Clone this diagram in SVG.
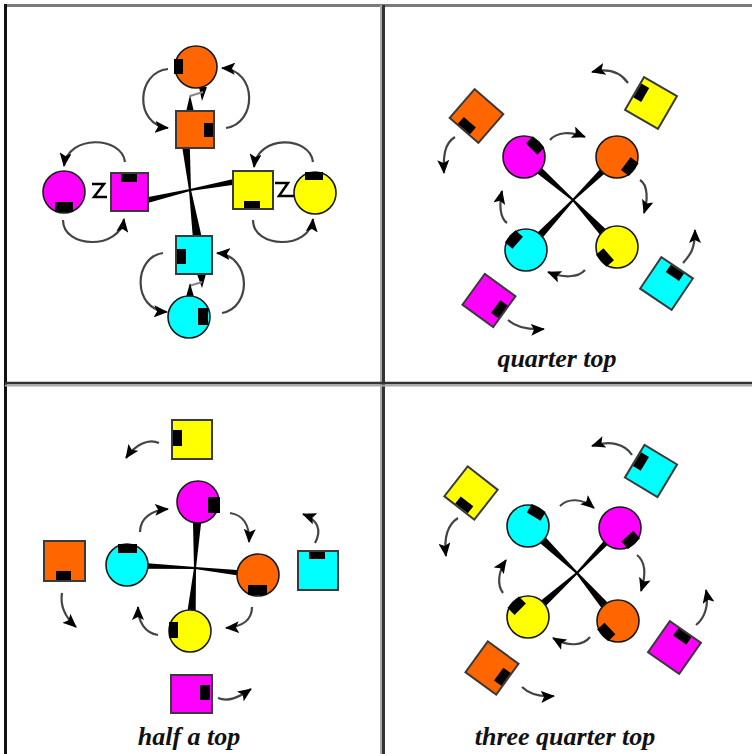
<svg xmlns="http://www.w3.org/2000/svg" width="752" height="754" viewBox="0 0 752 754">
<defs>
<marker id="ah" viewBox="0 0 14 12" refX="13" refY="6" markerWidth="14" markerHeight="12" markerUnits="userSpaceOnUse" orient="auto"><path d="M0,0 L14,6 L0,12 L3,6 z" fill="#000"/></marker>
<style>
.o{fill:#ff6600}.m{fill:#ff00ff}.y{fill:#ffff00}.c{fill:#00ffff}
circle{stroke:#1a1a1a;stroke-width:1.6}
.sq{stroke:#3a3a3a;stroke-width:2}
.k{fill:#000}
.arc{fill:none;stroke:#444;stroke-width:2.2;marker-end:url(#ah)}
.w{fill:#000}
.lbl{font-family:"Liberation Serif",serif;font-weight:bold;font-style:italic;font-size:26px;fill:#111;text-anchor:middle}
</style>
</defs>
<rect width="752" height="754" fill="#fff"/>
<g id="frame">
<line x1="4" y1="5.5" x2="752" y2="5.5" stroke="#7a7a7a" stroke-width="3"/>
<line x1="5.5" y1="4" x2="5.5" y2="754" stroke="#111" stroke-width="3"/>
<line x1="381" y1="5" x2="381" y2="754" stroke="#aaa" stroke-width="2"/>
<line x1="383.5" y1="5" x2="383.5" y2="754" stroke="#333" stroke-width="3"/>
<line x1="5" y1="385.5" x2="752" y2="385.5" stroke="#aaa" stroke-width="2"/>
<line x1="5" y1="383" x2="752" y2="383" stroke="#333" stroke-width="2.5"/>
</g>

<!-- Quadrant 1 -->
<g id="q1">
<g id="q1-connectors">
<polygon class="w" transform="translate(190,190) rotate(-95.3)" points="0,-1 46,-4 46,4 0,1"/>
<polygon class="w" transform="translate(190,190) rotate(81.3)" points="0,-1 49,-4.5 49,4.5 0,1"/>
<polygon class="w" transform="translate(190,190) rotate(166.6)" points="0,-1 46,-3 46,3 0,1"/>
<polygon class="w" transform="translate(190,190) rotate(-10.5)" points="0,-1 46,-3 46,3 0,1"/>
<polygon class="w" points="199,87 207,87 202,101"/>
<line x1="190" y1="96" x2="203" y2="92" stroke="#888" stroke-width="2"/>
<polygon class="w" points="190,95 186,112 194,112"/>
<polygon class="w" points="197,274 206,274 202,288"/>
<line x1="189" y1="286" x2="202" y2="282" stroke="#888" stroke-width="2"/>
<polygon class="w" points="190,283 186,297 194,297"/>
<path d="M 92 184 L 104 184 L 94 197 L 107 197" fill="none" stroke="#000" stroke-width="2.5"/>
<path d="M 275 183 L 288 183 L 279 196 L 294 196" fill="none" stroke="#000" stroke-width="2.5"/>
<path class="arc" d="M 168 69 C 136 72, 134 125, 168 128"/>
<path class="arc" d="M 226 128 C 257 124, 258 70, 222 68"/>
<path class="arc" d="M 125 162 C 122 136, 68 134, 64 166"/>
<path class="arc" d="M 63 220 C 63 249, 120 250, 124 219"/>
<path class="arc" d="M 313 162 C 310 136, 258 134, 254 167"/>
<path class="arc" d="M 253 220 C 253 249, 310 250, 313 219"/>
<path class="arc" d="M 163 253 C 133 257, 132 310, 167 312"/>
<path class="arc" d="M 222 313 C 252 308, 252 256, 217 253"/>
</g>
<g id="q1-orange-wheel"><circle class="o" cx="196" cy="67" r="21"/><rect class="k" x="174" y="59" width="9" height="15"/></g>
<g id="q1-orange-block"><rect class="o sq" x="176" y="111" width="38" height="37"/><rect class="k" x="204" y="123" width="9" height="14"/></g>
<g id="q1-magenta-wheel"><circle class="m" cx="64" cy="192" r="21"/><rect class="k" x="55" y="202" width="18" height="10"/></g>
<g id="q1-magenta-block"><rect class="m sq" x="111" y="173" width="37" height="38"/><rect class="k" x="121" y="174" width="16" height="8"/></g>
<g id="q1-yellow-block"><rect class="y sq" x="233" y="171" width="40" height="38"/><rect class="k" x="244" y="201" width="16" height="7"/></g>
<g id="q1-yellow-wheel"><circle class="y" cx="315" cy="193" r="21"/><rect class="k" x="305" y="172" width="18" height="8"/></g>
<g id="q1-cyan-block"><rect class="c sq" x="176" y="236" width="36" height="38"/><rect class="k" x="177" y="249" width="9" height="15"/></g>
<g id="q1-cyan-wheel"><circle class="c" cx="189" cy="317" r="21"/><rect class="k" x="198" y="308" width="10" height="17"/></g>
</g>

<!-- Quadrant 2 -->
<g id="q2">
<g id="q2-connectors">
<polygon class="w" transform="translate(573,200) rotate(-138.7)" points="0,-1 52,-4 52,4 0,1"/>
<polygon class="w" transform="translate(573,200) rotate(-44.3)" points="0,-1 48,-3.5 48,3.5 0,1"/>
<polygon class="w" transform="translate(573,200) rotate(133.2)" points="0,-1 54,-4 54,4 0,1"/>
<polygon class="w" transform="translate(573,200) rotate(46.9)" points="0,-1 50,-4.5 50,4.5 0,1"/>
<path class="arc" d="M 628 83 C 620 72, 608 68, 592 72"/>
<path class="arc" d="M 455 137 C 445 143, 443 155, 444 173"/>
<path class="arc" d="M 550 140 C 557 132, 570 131, 585 137"/>
<path class="arc" d="M 640 180 C 648 185, 648 200, 644 213"/>
<path class="arc" d="M 507 223 C 500 218, 499 205, 502 191"/>
<path class="arc" d="M 585 270 C 578 278, 563 278, 548 272"/>
<path class="arc" d="M 508 320 C 516 327, 528 330, 544 329"/>
<path class="arc" d="M 683 263 C 690 255, 695 250, 695 230"/>
</g>
<g id="q2-orange-block" transform="translate(476.5,116) rotate(41)"><rect class="o sq" x="-19" y="-19" width="38" height="38"/><rect class="k" x="-9" y="9" width="16" height="9"/></g>
<g id="q2-yellow-block" transform="translate(651,103) rotate(30)"><rect class="y sq" x="-19" y="-19" width="38" height="38"/><rect class="k" x="-18" y="-12" width="9" height="16"/></g>
<g id="q2-magenta-block" transform="translate(489,300.5) rotate(36)"><rect class="m sq" x="-19" y="-19" width="38" height="38"/><rect class="k" x="9" y="-7" width="9" height="16"/></g>
<g id="q2-cyan-block" transform="translate(666.5,283.5) rotate(34)"><rect class="c sq" x="-19" y="-19" width="38" height="38"/><rect class="k" x="-7" y="-18" width="16" height="9"/></g>
<g id="q2-magenta-wheel" transform="translate(524,157)"><circle class="m" r="21"/><rect class="k" transform="rotate(-46)" x="11" y="-8" width="10" height="16"/></g>
<g id="q2-orange-wheel" transform="translate(617,157)"><circle class="o" r="21"/><rect class="k" transform="rotate(37)" x="11" y="-8" width="10" height="16"/></g>
<g id="q2-cyan-wheel" transform="translate(526,250)"><circle class="c" r="21"/><rect class="k" transform="rotate(-139)" x="11" y="-8" width="10" height="16"/></g>
<g id="q2-yellow-wheel" transform="translate(617,247)"><circle class="y" r="21"/><rect class="k" transform="rotate(139)" x="11" y="-8" width="10" height="16"/></g>
<text class="lbl" x="557" y="367">quarter top</text>
</g>

<!-- Quadrant 3 -->
<g id="q3">
<g id="q3-connectors">
<polygon class="w" transform="translate(195,568) rotate(-87.4)" points="0,-1 52,-4.5 52,4.5 0,1"/>
<polygon class="w" transform="translate(195,568) rotate(-177.5)" points="0,-1 54,-3 54,3 0,1"/>
<polygon class="w" transform="translate(195,568) rotate(6.3)" points="0,-1 49,-3 49,3 0,1"/>
<polygon class="w" transform="translate(195,568) rotate(94.5)" points="0,-1 49,-4.5 49,4.5 0,1"/>
<path class="arc" d="M 159 443 C 148 438, 135 445, 126 458"/>
<path class="arc" d="M 140 532 C 140 518, 152 510, 168 509"/>
<path class="arc" d="M 230 513 C 243 515, 250 525, 249 542"/>
<path class="arc" d="M 315 543 C 322 530, 318 520, 303 514"/>
<path class="arc" d="M 62 593 C 60 605, 65 617, 76 627"/>
<path class="arc" d="M 158 635 C 145 633, 138 622, 138 607"/>
<path class="arc" d="M 252 607 C 252 620, 242 627, 226 628"/>
<path class="arc" d="M 218 698 C 228 702, 238 698, 251 689"/>
</g>
<g id="q3-yellow-block"><rect class="y sq" x="172" y="420" width="40" height="39"/><rect class="k" x="173" y="430" width="9" height="16"/></g>
<g id="q3-orange-block"><rect class="o sq" x="44" y="541" width="41" height="40"/><rect class="k" x="56" y="571" width="15" height="9"/></g>
<g id="q3-cyan-block"><rect class="c sq" x="298" y="551" width="40" height="39"/><rect class="k" x="309" y="552" width="16" height="7"/></g>
<g id="q3-magenta-block"><rect class="m sq" x="171" y="675" width="41" height="38"/><rect class="k" x="200" y="685" width="10" height="15"/></g>
<g id="q3-magenta-wheel"><circle class="m" cx="198" cy="502" r="21"/><rect class="k" x="208" y="497" width="12" height="16"/></g>
<g id="q3-cyan-wheel"><circle class="c" cx="127" cy="565" r="21"/><rect class="k" x="118" y="544" width="19" height="9"/></g>
<g id="q3-orange-wheel"><circle class="o" cx="258" cy="575" r="21"/><rect class="k" x="248" y="585" width="19" height="10"/></g>
<g id="q3-yellow-wheel"><circle class="y" cx="190" cy="631" r="21"/><rect class="k" x="169" y="622" width="9" height="16"/></g>
<text class="lbl" x="189" y="745">half a top</text>
</g>

<!-- Quadrant 4 -->
<g id="q4">
<g id="q4-connectors">
<polygon class="w" transform="translate(577,573) rotate(-136.2)" points="0,-1 54,-4.5 54,4.5 0,1"/>
<polygon class="w" transform="translate(577,573) rotate(-46.3)" points="0,-1 48,-3 48,3 0,1"/>
<polygon class="w" transform="translate(577,573) rotate(138)" points="0,-1 52,-4 52,4 0,1"/>
<polygon class="w" transform="translate(577,573) rotate(49.5)" points="0,-1 49,-4.5 49,4.5 0,1"/>
<path class="arc" d="M 632 455 C 625 444, 610 440, 592 446"/>
<path class="arc" d="M 458 518 C 447 525, 444 540, 446 556"/>
<path class="arc" d="M 560 506 C 568 498, 582 498, 594 508"/>
<path class="arc" d="M 637 555 C 646 562, 646 575, 641 591"/>
<path class="arc" d="M 503 593 C 497 585, 498 572, 506 560"/>
<path class="arc" d="M 590 637 C 583 646, 568 647, 553 638"/>
<path class="arc" d="M 522 687 C 530 695, 540 697, 554 696"/>
<path class="arc" d="M 696 625 C 705 618, 709 605, 706 590"/>
</g>
<g id="q4-cyan-block" transform="translate(651,471) rotate(31)"><rect class="c sq" x="-19" y="-19" width="38" height="38"/><rect class="k" x="-18" y="-11" width="9" height="16"/></g>
<g id="q4-yellow-block" transform="translate(471,493) rotate(38)"><rect class="y sq" x="-19" y="-19" width="38" height="38"/><rect class="k" x="-6" y="9" width="16" height="9"/></g>
<g id="q4-orange-block" transform="translate(492,668) rotate(36)"><rect class="o sq" x="-19" y="-19" width="38" height="38"/><rect class="k" x="9" y="-7" width="9" height="16"/></g>
<g id="q4-magenta-block" transform="translate(674.5,647.5) rotate(35)"><rect class="m sq" x="-19" y="-19" width="38" height="38"/><rect class="k" x="-8" y="-18" width="16" height="9"/></g>
<g id="q4-cyan-wheel" transform="translate(528,526)"><circle class="c" r="21"/><rect class="k" transform="rotate(-59)" x="11" y="-8" width="10" height="16"/></g>
<g id="q4-magenta-wheel" transform="translate(620,528)"><circle class="m" r="21"/><rect class="k" transform="rotate(48)" x="11" y="-8" width="10" height="16"/></g>
<g id="q4-yellow-wheel" transform="translate(528,617)"><circle class="y" r="21"/><rect class="k" transform="rotate(-135)" x="11" y="-8" width="10" height="16"/></g>
<g id="q4-orange-wheel" transform="translate(618,621)"><circle class="o" r="21"/><rect class="k" transform="rotate(137)" x="11" y="-8" width="10" height="16"/></g>
<text class="lbl" x="565" y="745">three quarter top</text>
</g>
</svg>
